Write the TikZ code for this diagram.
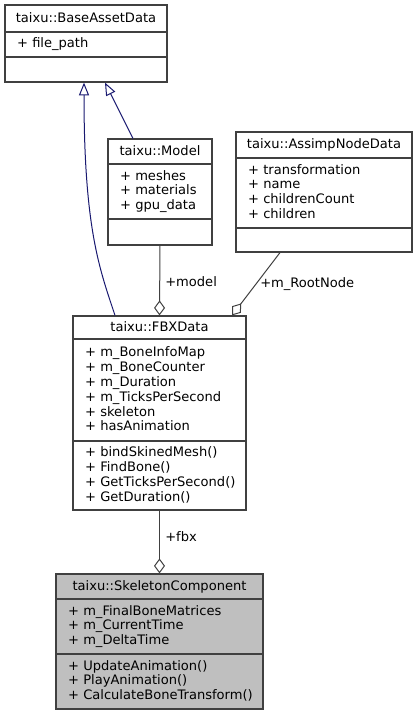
\documentclass[tikz,border=0pt]{standalone}
\usepackage{fontspec}
\setmainfont{DejaVu Sans}
\usetikzlibrary{arrows.meta,calc}

\definecolor{edgegray}{HTML}{404040}
\definecolor{inhblue}{HTML}{191970}
\definecolor{hilite}{HTML}{BFBFBF}

\newcommand\umlfont{\fontsize{9.8}{11.1}\selectfont}

\tikzset{
  sect/.style={draw=edgegray, line width=0.9pt, fill=white, inner sep=0pt,
    font=\umlfont, text height=7pt, text depth=1.6pt},
  sectsize/.style 2 args={minimum width=#1, minimum height=#2},
  members/.style={anchor=west, inner sep=0pt, align=left, font=\umlfont, yshift=-1.4pt},
  lbl/.style={anchor=west, inner sep=0pt, font=\umlfont, text height=7pt, text depth=1.6pt},
  inh/.style={draw=inhblue, line width=0.75pt, -{Triangle[open, length=9.5pt, width=7.5pt]}},
  comp/.style={draw=edgegray, line width=0.75pt, -{Diamond[open, length=11.25pt, width=8.25pt]}},
}

\begin{document}
\begin{tikzpicture}[x=0.75pt, y=-0.75pt]
  \useasboundingbox (0,0) rectangle (417,715);

  % taixu::BaseAssetData
  \node[sect, sectsize={121.5pt}{20.25pt}] (base-t) at (86,18.5) {taixu::BaseAssetData};
  \node[sect, sectsize={121.5pt}{18.75pt}] (base-a) at (86,44.5) {};
  \node[members] (base-at) at ($(base-a.west)+(12.5,-1.5)$) {\strut+ file\_path};
  \node[sect, sectsize={121.5pt}{18.75pt}] (base-m) at (86,69.5) {};

  % taixu::Model
  \node[sect, sectsize={78pt}{18.75pt}] (model-t) at (160,151.5) {taixu::Model};
  \node[sect, sectsize={78pt}{41.25pt}] (model-a) at (160,191.5) {};
  \node[members] (model-at) at ($(model-a.west)+(12.5,-1.5)$)
    {\strut+ meshes\\\strut+ materials\\\strut+ gpu\_data};
  \node[sect, sectsize={78pt}{19.5pt}] (model-m) at (160,232) {};

  % taixu::AssimpNodeData
  \node[sect, sectsize={132pt}{19.5pt}] (assimp-t) at (324,145) {taixu::AssimpNodeData};
  \node[sect, sectsize={132pt}{52.5pt}] (assimp-a) at (324,193) {};
  \node[members] (assimp-at) at ($(assimp-a.west)+(12.5,-1.5)$)
    {\strut+ transformation\\\strut+ name\\\strut+ childrenCount\\\strut+ children};
  \node[sect, sectsize={132pt}{18pt}] (assimp-m) at (324,240) {};

  % taixu::FBXData
  \node[sect, sectsize={129.75pt}{17.25pt}] (fbx-t) at (159.5,327.5) {taixu::FBXData};
  \node[sect, sectsize={129.75pt}{76.5pt}] (fbx-a) at (159.5,390) {};
  \node[members] (fbx-at) at ($(fbx-a.west)+(12.5,-1)$)
    {\strut+ m\_BoneInfoMap\\\strut+ m\_BoneCounter\\\strut+ m\_Duration\\%
     \strut+ m\_TicksPerSecond\\\strut+ skeleton\\\strut+ hasAnimation};
  \node[sect, sectsize={129.75pt}{51.75pt}] (fbx-m) at (159.5,475.5) {};
  \node[members] (fbx-mt) at ($(fbx-m.west)+(12.5,-1.5)$)
    {\strut+ bindSkinedMesh()\\\strut+ FindBone()\\\strut+ GetTicksPerSecond()\\\strut+ GetDuration()};

  % taixu::SkeletonComponent
  \node[sect, fill=hilite, sectsize={155.25pt}{18.75pt}] (skel-t) at (159.5,586.5) {taixu::SkeletonComponent};
  \node[sect, fill=hilite, sectsize={155.25pt}{41.25pt}] (skel-a) at (159.5,626.5) {};
  \node[members] (skel-at) at ($(skel-a.west)+(12.5,-1.5)$)
    {\strut+ m\_FinalBoneMatrices\\\strut+ m\_CurrentTime\\\strut+ m\_DeltaTime};
  \node[sect, fill=hilite, sectsize={155.25pt}{41.25pt}] (skel-m) at (159.5,681.5) {};
  \node[members] (skel-mt) at ($(skel-m.west)+(12.5,-1.5)$)
    {\strut+ UpdateAnimation()\\\strut+ PlayAnimation()\\\strut+ CalculateBoneTransform()};

  % inheritance
  \draw[inh] ($(fbx-t.north)+(-44.5,0)$) .. controls (100,270) and (84,230) .. ($(base-m.south)+(-2,0)$);
  \draw[inh] ($(model-t.north)+(-27,0)$) -- ($(base-m.south)+(19,0)$);

  % aggregation
  \draw[comp] (model-m.south) -- (fbx-t.north);
  \node[lbl] (lbl-model) at (165,283) {+model};
  \draw[comp] ($(assimp-m.south)+(-44,0)$) -- ($(fbx-t.north)+(72.5,0)$);
  \node[lbl] (lbl-root) at (260,284) {+m\_RootNode};
  \draw[comp] (fbx-m.south) -- (skel-t.north);
  \node[lbl] (lbl-fbx) at (165,538) {+fbx};
\end{tikzpicture}
\end{document}
